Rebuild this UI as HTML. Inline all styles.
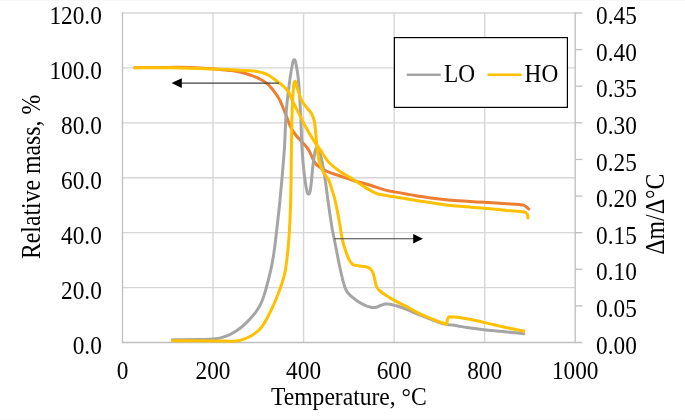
<!DOCTYPE html>
<html>
<head>
<meta charset="utf-8">
<title>TG / DTG chart</title>
<style>
html,body{margin:0;padding:0;background:#fff;}
body{width:685px;height:420px;overflow:hidden;position:relative;font-family:"Liberation Serif",serif;}
svg{position:absolute;left:0;top:0;display:block;will-change:transform;}
text{font-family:"Liberation Serif",serif;font-size:23.3px;fill:#000;}
</style>
</head>
<body>
<svg width="685" height="420" viewBox="0 0 685 420">
  <rect x="0" y="0" width="685" height="420" fill="#ffffff"/>
  <line x1="0" y1="0.5" x2="685" y2="0.5" stroke="#f8f8f8" stroke-width="1"/>
  <line x1="0" y1="419.5" x2="685" y2="419.5" stroke="#fafafa" stroke-width="1"/>

  <!-- gridlines -->
  <g stroke="#d6d6d6" stroke-width="1.4" fill="none">
    <line x1="122.5" y1="13.00" x2="575.2" y2="13.00"/>
    <line x1="122.5" y1="67.92" x2="575.2" y2="67.92"/>
    <line x1="122.5" y1="122.83" x2="575.2" y2="122.83"/>
    <line x1="122.5" y1="177.75" x2="575.2" y2="177.75"/>
    <line x1="122.5" y1="232.67" x2="575.2" y2="232.67"/>
    <line x1="122.5" y1="287.58" x2="575.2" y2="287.58"/>
    <line x1="213.04" y1="13.0" x2="213.04" y2="342.5"/>
    <line x1="303.58" y1="13.0" x2="303.58" y2="342.5"/>
    <line x1="394.12" y1="13.0" x2="394.12" y2="342.5"/>
    <line x1="484.66" y1="13.0" x2="484.66" y2="342.5"/>
  </g>
  <!-- axes -->
  <g stroke="#bfbfbf" stroke-width="1.3" fill="none">
    <line x1="122.5" y1="12.35" x2="122.5" y2="343.15"/>
    <line x1="575.2" y1="12.35" x2="575.2" y2="343.15"/>
    <line x1="121.85" y1="342.5" x2="582.3" y2="342.5"/>
    <line x1="575.2" y1="13.00" x2="582.3" y2="13.00"/>
    <line x1="575.2" y1="49.61" x2="582.3" y2="49.61"/>
    <line x1="575.2" y1="86.22" x2="582.3" y2="86.22"/>
    <line x1="575.2" y1="122.83" x2="582.3" y2="122.83"/>
    <line x1="575.2" y1="159.44" x2="582.3" y2="159.44"/>
    <line x1="575.2" y1="196.06" x2="582.3" y2="196.06"/>
    <line x1="575.2" y1="232.67" x2="582.3" y2="232.67"/>
    <line x1="575.2" y1="269.28" x2="582.3" y2="269.28"/>
    <line x1="575.2" y1="305.89" x2="582.3" y2="305.89"/>
  </g>
  <!-- curves -->
  <g fill="none" stroke-width="3.0" stroke-linejoin="round" stroke-linecap="round">
    <path stroke="#ed7d31" d="M134.6,67.7 C143.1,67.6 149.8,67.6 160.0,67.5 C168.0,67.4 172.0,67.2 180.0,67.3 C188.0,67.4 192.0,67.5 200.0,67.9 C206.0,68.2 209.0,68.4 215.0,68.9 C221.0,69.4 224.0,69.7 230.0,70.4 C234.0,70.9 236.1,71.1 240.0,72.0 C244.1,72.9 246.1,73.6 250.0,75.0 C253.7,76.3 255.6,76.8 259.0,78.6 C263.0,80.7 265.3,81.6 268.6,84.8 C273.0,89.1 274.6,91.9 278.0,97.0 C279.7,99.6 280.2,101.1 281.5,104.0 C283.3,108.1 284.0,110.2 285.7,114.3 C287.7,119.4 288.3,122.1 290.7,127.0 C292.3,130.4 293.4,132.0 295.7,135.0 C298.3,138.4 300.1,139.7 302.9,142.9 C305.3,145.7 306.7,146.9 308.6,150.0 C310.7,153.4 311.1,155.4 312.9,159.0 C313.8,160.9 314.2,161.9 315.5,163.5 C316.5,164.8 317.2,165.4 318.6,166.4 C321.8,168.6 323.4,169.8 327.0,171.4 C332.0,173.7 334.8,174.2 340.0,176.0 C345.3,177.8 347.9,178.9 353.3,180.5 C360.1,182.6 363.7,183.2 370.5,185.2 C375.9,186.8 378.4,188.1 383.8,189.6 C387.9,190.8 390.1,191.1 394.3,191.9 C403.0,193.5 407.4,194.3 416.2,195.7 C423.8,196.9 427.6,197.6 435.2,198.6 C442.8,199.6 446.6,199.9 454.3,200.5 C460.6,201.0 463.7,201.0 470.0,201.4 C475.7,201.7 478.6,201.9 484.3,202.3 C493.4,202.9 497.9,203.2 507.0,203.8 C512.2,204.1 514.8,204.2 520.0,204.6 C521.3,204.7 522.0,204.7 523.3,205.1 C524.6,205.5 525.1,205.9 526.2,206.7 C527.3,207.5 527.9,208.2 528.7,209.0"/>
    <path stroke="#a5a5a5" d="M172.4,339.8 C181.6,339.7 189.0,339.7 200.0,339.5 C205.3,339.4 208.0,339.7 213.3,339.1 C218.0,338.6 220.4,338.3 224.8,336.7 C229.6,335.0 231.9,333.8 236.2,331.0 C240.3,328.4 242.2,326.7 245.7,323.3 C249.8,319.4 251.8,317.4 255.2,312.9 C257.9,309.3 259.1,307.4 261.0,303.3 C263.4,298.2 264.1,295.4 265.7,290.0 C268.3,280.9 269.4,276.3 271.4,267.1 C272.9,260.3 273.3,256.9 274.3,250.0 C275.3,243.2 275.6,239.7 276.4,232.9 C277.9,219.7 278.7,213.2 280.0,200.0 C281.9,180.0 282.9,170.0 284.3,150.0 C285.4,134.0 285.1,126.0 286.4,110.0 C287.4,97.4 288.3,91.1 290.0,78.6 C290.8,72.7 291.2,69.8 292.5,64.0 C292.9,62.2 293.1,59.8 294.3,59.8 C295.5,59.8 295.6,62.2 296.0,64.0 C297.2,69.8 297.7,72.7 298.3,78.6 C299.5,91.1 299.7,97.4 300.4,110.0 C301.3,126.0 301.2,134.0 302.1,150.0 C302.6,158.8 303.0,163.2 304.0,172.0 C304.8,178.8 305.1,182.3 306.5,189.0 C307.0,191.2 307.3,194.3 308.6,194.3 C309.9,194.3 310.2,191.2 310.5,189.0 C311.9,179.5 311.8,174.6 313.0,165.0 C313.6,159.8 313.9,157.1 315.0,152.0 C315.4,150.1 315.6,148.5 316.8,147.5 C317.5,146.9 318.2,148.2 318.5,149.0 C320.0,152.7 320.5,154.7 321.4,158.6 C323.1,166.5 323.8,170.6 325.0,178.6 C326.9,191.1 327.5,197.5 329.3,210.0 C330.5,218.0 331.0,222.0 332.4,230.0 C333.8,237.6 334.7,241.4 336.2,249.0 C337.7,256.6 338.3,260.4 340.0,268.0 C341.7,275.6 342.3,279.6 344.8,287.0 C345.8,290.0 346.5,291.5 348.6,293.8 C351.9,297.4 354.0,298.6 358.0,301.4 C360.6,303.2 362.1,303.9 365.0,305.3 C366.9,306.2 368.0,306.4 370.0,307.0 C371.4,307.4 372.1,307.6 373.5,307.6 C374.9,307.6 375.6,307.4 377.0,307.0 C378.7,306.5 379.4,305.8 381.0,305.3 C382.8,304.7 383.8,304.3 385.7,304.1 C387.4,303.9 388.3,303.9 390.0,304.2 C392.5,304.6 393.8,305.1 396.2,305.8 C400.0,307.0 402.0,307.5 405.7,309.0 C411.1,311.1 413.6,312.5 419.0,314.7 C426.6,317.7 430.3,319.3 438.0,322.0 C441.4,323.2 443.2,323.7 446.7,324.4 C450.8,325.2 452.9,325.0 457.0,325.7 C460.9,326.3 462.8,327.0 466.7,327.6 C474.3,328.7 478.1,329.2 485.7,330.0 C493.3,330.8 497.2,331.1 504.8,331.8 C512.4,332.5 517.5,333.1 523.8,333.7"/>
    <path stroke="#ffc000" d="M134.6,67.7 C147.1,67.7 157.0,67.7 172.0,67.8 C179.2,67.9 182.8,68.0 190.0,68.2 C198.8,68.5 203.2,68.7 212.0,69.1 C223.2,69.5 228.8,69.7 240.0,70.2 C245.6,70.5 248.4,70.4 254.0,71.0 C257.2,71.4 258.9,71.7 262.0,72.6 C264.7,73.4 266.2,73.8 268.6,75.2 C272.6,77.6 274.4,79.1 278.0,82.0 C282.0,85.2 284.5,86.5 287.6,90.5 C290.2,93.8 290.2,96.2 292.0,100.0 C294.6,105.2 296.0,107.7 298.6,112.9 C301.5,118.5 302.7,121.5 305.7,127.0 C308.9,132.9 310.7,135.8 314.3,141.4 C317.0,145.5 318.7,147.3 321.4,151.4 C322.7,153.3 323.0,154.4 324.3,156.3 C326.4,159.3 327.4,161.0 330.0,163.5 C333.7,167.0 335.8,168.5 340.0,171.4 C345.1,174.9 348.0,176.2 353.3,179.5 C358.0,182.4 360.1,184.2 364.8,187.1 C369.3,189.8 371.4,191.3 376.2,193.4 C378.3,194.4 379.6,194.4 381.9,194.8 C386.8,195.7 389.3,195.9 394.3,196.7 C403.1,198.2 407.4,199.1 416.2,200.5 C423.8,201.7 427.6,202.2 435.2,203.3 C441.3,204.2 444.3,204.9 450.5,205.6 C458.3,206.4 462.2,206.5 470.0,207.1 C475.7,207.5 478.6,207.7 484.3,208.2 C493.4,209.0 497.9,209.6 507.0,210.5 C513.9,211.2 517.6,210.9 524.3,212.0 C525.6,212.2 526.3,212.6 527.0,213.7 C527.9,215.2 527.7,216.6 528.0,218.0"/>
    <path stroke="#ffc000" d="M172.4,340.8 C188.3,340.9 201.0,340.9 220.0,341.0 C226.5,341.0 229.7,341.5 236.2,341.0 C239.3,340.8 240.8,340.1 243.8,339.1 C246.9,338.0 248.5,337.4 251.4,335.7 C254.7,333.7 256.3,332.7 259.0,330.0 C261.7,327.3 262.8,325.7 264.8,322.4 C267.7,317.6 268.8,315.0 271.2,310.0 C273.1,306.1 274.0,304.1 275.7,300.0 C277.7,295.1 278.7,292.5 280.5,287.5 C281.9,283.7 282.5,281.9 283.6,278.0 C284.6,274.3 285.1,272.4 285.7,268.6 C286.8,261.2 287.1,257.5 287.9,250.0 C288.6,243.2 288.9,239.8 289.3,232.9 C290.0,219.7 290.4,213.2 290.7,200.0 C291.2,180.0 291.1,170.0 291.4,150.0 C291.7,134.0 291.7,126.0 292.2,110.0 C292.5,102.0 292.6,98.0 293.3,90.0 C293.6,86.6 293.6,82.8 294.7,81.5 C295.8,80.2 295.8,84.2 296.5,86.0 C297.5,88.8 298.0,90.2 299.0,93.0 C300.0,95.8 300.1,97.4 301.4,100.0 C302.8,102.8 303.9,103.9 305.7,106.4 C307.9,109.4 309.6,110.4 311.4,113.6 C313.1,116.5 313.6,118.2 314.3,121.4 C315.3,125.9 315.2,128.3 315.7,132.9 C316.3,138.5 316.3,141.4 317.0,147.0 C317.7,152.8 317.9,155.7 319.3,161.4 C320.3,165.5 321.0,167.6 322.9,171.4 C324.7,175.1 326.8,176.3 328.6,180.0 C330.5,183.8 330.7,186.0 332.0,190.0 C333.3,194.0 334.1,195.9 335.0,200.0 C337.0,208.5 337.7,212.8 339.3,221.4 C340.6,228.3 340.8,231.8 342.1,238.6 C342.6,241.3 343.0,242.6 343.8,245.2 C345.6,250.6 346.3,253.4 348.6,258.6 C349.7,261.1 350.2,262.6 352.4,264.3 C354.2,265.7 355.7,265.4 358.0,265.8 C361.1,266.4 362.7,266.0 365.7,266.8 C367.7,267.3 368.9,267.6 370.5,269.0 C372.1,270.5 372.5,271.7 373.3,273.8 C374.4,276.7 374.4,278.4 375.2,281.4 C375.8,283.7 375.7,285.0 376.8,287.1 C377.7,288.9 378.5,289.7 380.0,291.0 C382.5,293.1 383.9,293.9 386.7,295.7 C390.4,298.1 392.3,299.3 396.2,301.4 C399.9,303.5 401.9,304.2 405.7,306.2 C411.0,309.0 413.5,310.7 419.0,313.3 C426.5,316.8 431.7,318.8 438.0,321.5 C440.9,322.4 443.8,323.3 446.7,324.2 C447.1,322.2 447.0,320.3 448.0,318.0 C448.4,317.1 449.1,316.8 450.0,316.8 C456.2,317.0 460.1,317.6 466.7,318.7 C474.4,320.0 478.1,321.2 485.7,322.9 C493.3,324.6 497.1,325.6 504.8,327.2 C512.4,328.8 517.5,329.7 523.8,331.0"/>
  </g>
  <!-- arrows -->
  <g stroke="#404040" stroke-width="1.05" fill="none">
    <line x1="180" y1="83.1" x2="279" y2="83.1"/>
    <line x1="334.3" y1="238.7" x2="415" y2="238.7"/>
  </g>
  <polygon points="171.6,83.1 181.8,78.2 181.8,88" fill="#000"/>
  <polygon points="422.9,238.7 413.2,233.9 413.2,243.5" fill="#000"/>
  <!-- legend -->
  <rect x="394.4" y="37.6" width="173" height="69.8" fill="#ffffff" stroke="#000" stroke-width="1.2"/>
  <line x1="406.8" y1="74.8" x2="440.8" y2="74.8" stroke="#a5a5a5" stroke-width="2.4"/>
  <line x1="487.5" y1="74.8" x2="521.6" y2="74.8" stroke="#ffc000" stroke-width="2.4"/>
  <text transform="translate(444.1,81.5) scale(1,1.07)">LO</text>
  <text transform="translate(524.6,81.5) scale(1,1.07)">HO</text>
  <!-- left tick labels -->
  <g text-anchor="end">
    <text transform="translate(101.8,24.20) scale(1,1.07)">120.0</text>
    <text transform="translate(101.8,79.12) scale(1,1.07)">100.0</text>
    <text transform="translate(101.8,134.03) scale(1,1.07)">80.0</text>
    <text transform="translate(101.8,188.95) scale(1,1.07)">60.0</text>
    <text transform="translate(101.8,243.87) scale(1,1.07)">40.0</text>
    <text transform="translate(101.8,298.78) scale(1,1.07)">20.0</text>
    <text transform="translate(101.8,353.70) scale(1,1.07)">0.0</text>
  </g>
  <!-- right tick labels -->
  <g text-anchor="start">
    <text transform="translate(596.1,24.20) scale(1,1.07)">0.45</text>
    <text transform="translate(596.1,60.81) scale(1,1.07)">0.40</text>
    <text transform="translate(596.1,97.42) scale(1,1.07)">0.35</text>
    <text transform="translate(596.1,134.03) scale(1,1.07)">0.30</text>
    <text transform="translate(596.1,170.64) scale(1,1.07)">0.25</text>
    <text transform="translate(596.1,207.26) scale(1,1.07)">0.20</text>
    <text transform="translate(596.1,243.87) scale(1,1.07)">0.15</text>
    <text transform="translate(596.1,280.48) scale(1,1.07)">0.10</text>
    <text transform="translate(596.1,317.09) scale(1,1.07)">0.05</text>
    <text transform="translate(596.1,353.70) scale(1,1.07)">0.00</text>
  </g>
  <!-- x tick labels -->
  <g text-anchor="middle">
    <text transform="translate(122.50,378.8) scale(1,1.07)">0</text>
    <text transform="translate(213.04,378.8) scale(1,1.07)">200</text>
    <text transform="translate(303.58,378.8) scale(1,1.07)">400</text>
    <text transform="translate(394.12,378.8) scale(1,1.07)">600</text>
    <text transform="translate(484.66,378.8) scale(1,1.07)">800</text>
    <text transform="translate(575.20,378.8) scale(1,1.07)">1000</text>
  </g>
  <!-- axis titles -->
  <text transform="translate(348.9,404.8) scale(1.013,1.08)" text-anchor="middle">Temperature, °C</text>
  <text transform="translate(39.5,176.9) rotate(-90) scale(1,1.13)" text-anchor="middle" textLength="164.3" lengthAdjust="spacingAndGlyphs">Relative mass, %</text>
  <text transform="translate(663.6,214.2) rotate(-90) scale(1,1.13)" text-anchor="middle" textLength="81" lengthAdjust="spacingAndGlyphs">Δm/Δ°C</text>
</svg>
</body>
</html>
